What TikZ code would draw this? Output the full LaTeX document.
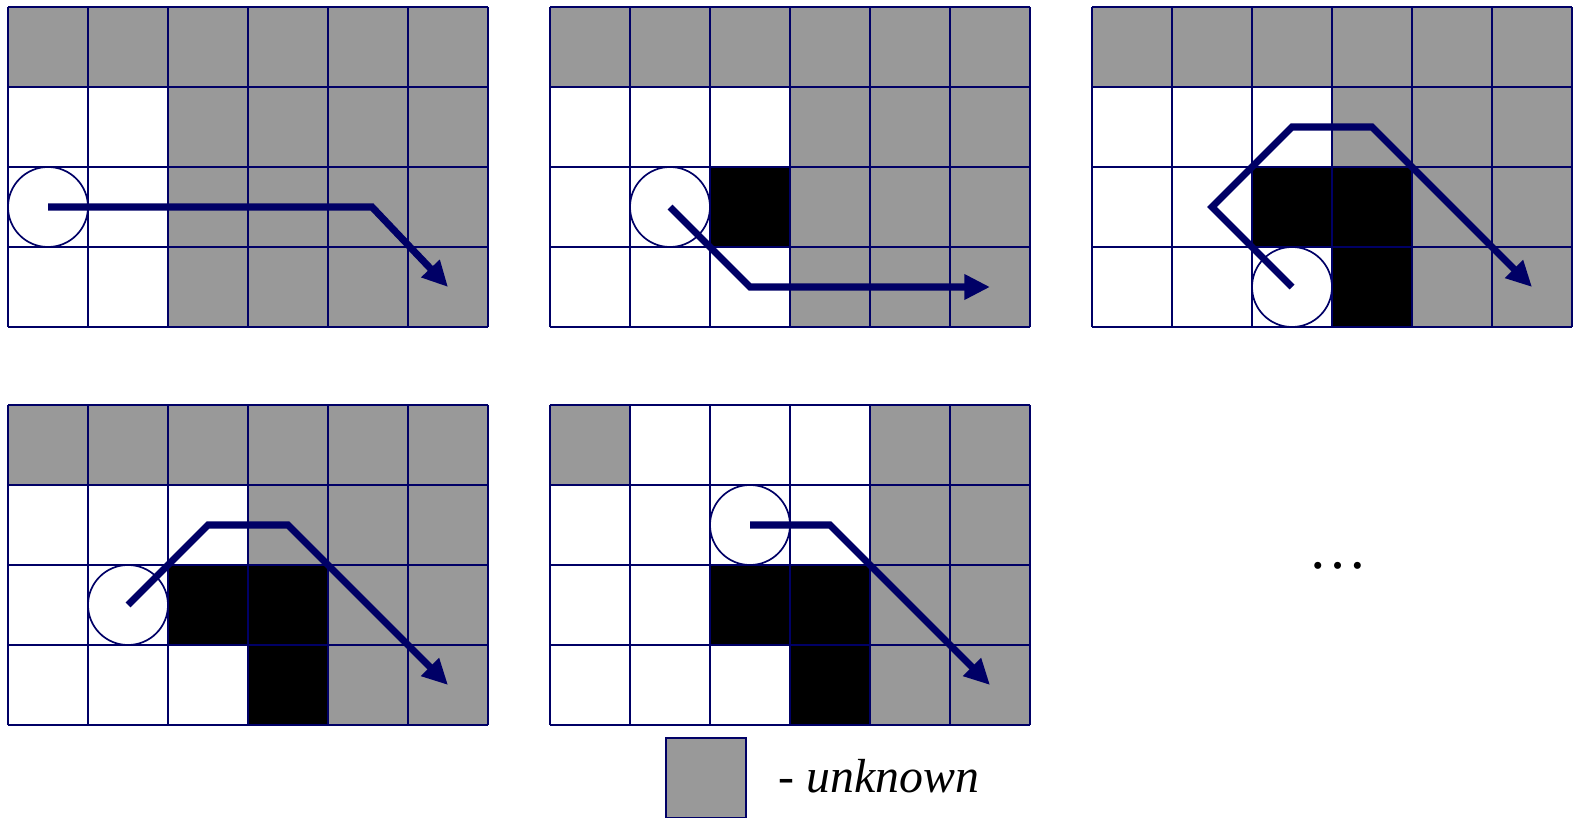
\documentclass[tikz,border=0pt]{standalone}
\usepackage{fontspec}
\setmainfont{Liberation Serif}
\usetikzlibrary{arrows.meta}

\definecolor{gridblue}{RGB}{0,0,102}
\definecolor{unknowngray}{RGB}{153,153,153}

\begin{document}
\begin{tikzpicture}[
        gridline/.style={draw=gridblue, line width=0.75pt},
        unknown/.style={fill=unknowngray},
        wall/.style={fill=black},
        robot/.style={circle, draw=gridblue, fill=white, line width=0.6pt, minimum size=1cm, inner sep=0pt},
        route/.style={draw=gridblue, line width=2.5pt, -{Triangle[length=0.32cm,width=0.3cm]}}
    ]
        \def\w{6}
        \def\h{4}

        \useasboundingbox (0,0) rectangle (19.6625,-10.225);

        % step 1
        \begin{scope}[shift={(0.1,-0.0875)}]
            \fill[unknown] (0,0) rectangle (\w,-1);
            \fill[unknown] (2,-1) rectangle (\w,-\h);
            \draw[gridline] (0,-\h) grid (\w,0);
            \node[robot] (robotA) at (0.5,-2.5) {};
            \draw[route] (robotA.center) -- (4.55,-2.5) -- (5.5,-3.5);
        \end{scope}

        % step 2
        \begin{scope}[shift={(6.875,-0.0875)}]
            \fill[unknown] (0,0) rectangle (\w,-1);
            \fill[unknown] (3,-1) rectangle (\w,-\h);
            \fill[wall] (2,-2) rectangle (3,-3);
            \draw[gridline] (0,-\h) grid (\w,0);
            \node[robot] (robotB) at (1.5,-2.5) {};
            \draw[route] (robotB.center) -- (2.5,-3.5) -- (5.5,-3.5);
        \end{scope}

        % step 3
        \begin{scope}[shift={(13.65,-0.0875)}]
            \fill[unknown] (0,0) rectangle (\w,-1);
            \fill[unknown] (3,-1) rectangle (\w,-2);
            \fill[unknown] (4,-2) rectangle (\w,-\h);
            \fill[wall] (2,-2) rectangle (4,-3);
            \fill[wall] (3,-3) rectangle (4,-4);
            \draw[gridline] (0,-\h) grid (\w,0);
            \node[robot] (robotC) at (2.5,-3.5) {};
            \draw[route] (robotC.center) -- (1.5,-2.5) -- (2.5,-1.5) -- (3.5,-1.5) -- (5.5,-3.5);
        \end{scope}

        % step 4
        \begin{scope}[shift={(0.1,-5.0625)}]
            \fill[unknown] (0,0) rectangle (\w,-1);
            \fill[unknown] (3,-1) rectangle (\w,-2);
            \fill[unknown] (4,-2) rectangle (\w,-\h);
            \fill[wall] (2,-2) rectangle (4,-3);
            \fill[wall] (3,-3) rectangle (4,-4);
            \draw[gridline] (0,-\h) grid (\w,0);
            \node[robot] (robotD) at (1.5,-2.5) {};
            \draw[route] (robotD.center) -- (2.5,-1.5) -- (3.5,-1.5) -- (5.5,-3.5);
        \end{scope}

        % step 5
        \begin{scope}[shift={(6.875,-5.0625)}]
            \fill[unknown] (0,0) rectangle (1,-1);
            \fill[unknown] (4,0) rectangle (\w,-\h);
            \fill[wall] (2,-2) rectangle (4,-3);
            \fill[wall] (3,-3) rectangle (4,-4);
            \draw[gridline] (0,-\h) grid (\w,0);
            \node[robot] (robotE) at (2.5,-1.5) {};
            \draw[route] (robotE.center) -- (3.5,-1.5) -- (5.5,-3.5);
        \end{scope}

        \node[font=\fontsize{21}{24}\selectfont, anchor=base] (more) at (16.725,-7.1) {\ldots};

        % legend
        \draw[gridline, unknown] (8.325,-9.225) rectangle ++(1,-1);
        \node[anchor=base west, inner sep=0pt, font=\fontsize{17}{20}\selectfont\itshape] (legend) at (9.725,-9.9) {- unknown};
    \end{tikzpicture}
\end{document}
